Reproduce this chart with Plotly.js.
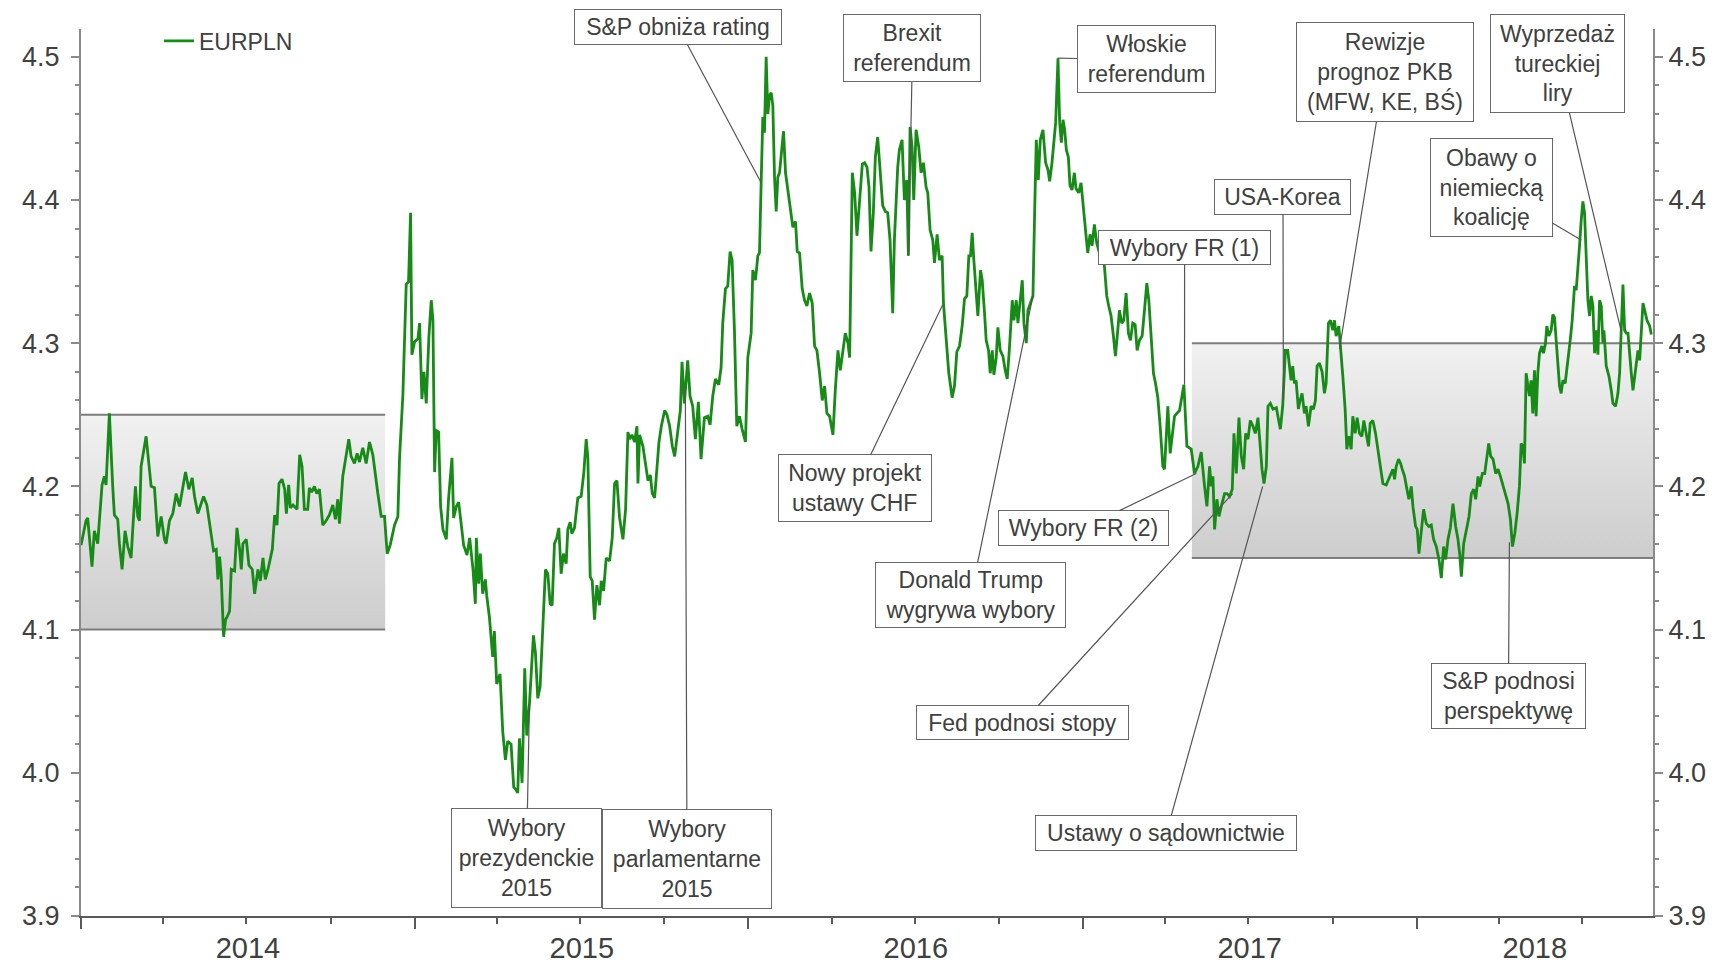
<!DOCTYPE html>
<html><head><meta charset="utf-8">
<script src="https://cdn.plot.ly/plotly-3.0.1.min.js"></script>
<style>html,body{margin:0;padding:0;background:#fff}#chart{width:1727px;height:963px}</style>
</head><body><div id="chart"></div>
<script>
// ---- data: EURPLN, fraction-of-year positions and values ----
const f2014 = [0,.015,.020,.033,.040,.050,.063,.070,.075,.085,
 .095,.100,.110,.115,.123,.132,.140,.150,.155,.163,
 .170,.175,.180,.195,.210,.220,.230,.240,.250,.255,
 .265,.275,.285,.295,.313,.323,.333,.340,.350,.367,
 .377,.390,.397,.405,.410,.415,.420,.427,.433,.438,
 .445,.450,.460,.467,.475,.480,.485,.495,.503,.513,
 .520,.530,.537,.545,.552,.560,.573,.580,.587,.593,
 .602,.610,.615,.622,.627,.635,.647,.655,.662,.669,
 .679,.684,.691,.699,.706,.714,.724,.734,.744,.754,
 .762,.769,.774,.784,.794,.802,.809,.819,.827,.834,
 .844,.854,.864,.874,.889,.899,.909,.917,.926,.939,
 .949,.954,.964,.974,.981,.987,.991,.999];
const v2014 = [4.159,4.176,4.178,4.144,4.169,4.160,4.201,4.207,4.201,4.251,
 4.200,4.180,4.177,4.160,4.142,4.169,4.158,4.150,4.170,4.200,
 4.179,4.176,4.214,4.235,4.200,4.199,4.165,4.179,4.163,4.160,
 4.176,4.181,4.195,4.186,4.210,4.198,4.206,4.193,4.181,4.193,
 4.187,4.165,4.155,4.156,4.135,4.151,4.137,4.095,4.107,4.109,
 4.113,4.142,4.141,4.171,4.156,4.142,4.160,4.163,4.145,4.142,
 4.125,4.142,4.134,4.150,4.135,4.142,4.156,4.180,4.173,4.202,
 4.205,4.198,4.181,4.201,4.185,4.187,4.184,4.222,4.214,4.184,
 4.184,4.199,4.196,4.200,4.195,4.198,4.173,4.176,4.180,4.187,
 4.177,4.191,4.174,4.207,4.223,4.233,4.221,4.216,4.223,4.217,
 4.227,4.216,4.231,4.222,4.195,4.179,4.179,4.153,4.159,4.173,
 4.179,4.220,4.264,4.341,4.343,4.391,4.292,4.301];

const f2015 = [.009,.014,.021,.027,.034,.042,.049,.054,.059,.064,
 .071,.077,.084,.094,.101,.111,.116,.124,.131,.139,
 .146,.156,.164,.174,.181,.184,.191,.196,.203,.211,
 .215,.223,.233,.238,.245,.255,.263,.271,.278,.288,
 .296,.303,.308,.313,.321,.329,.335,.343,.355,.361,
 .368,.375,.383,.391,.398,.405,.411,.418,.425,.431,
 .438,.445,.453,.458,.465,.470,.478,.488,.498,.506,
 .513,.518,.525,.531,.538,.545,.553,.558,.565,.573,
 .583,.591,.598,.605,.613,.623,.631,.638,.643,.650,
 .658,.665,.668,.673,.683,.691,.698,.705,.711,.718,
 .725,.731,.738,.748,.755,.763,.771,.778,.795,.800,
 .807,.817,.824,.832,.840,.849,.857,.867,.877,.884,
 .892,.900,.910,.917,.922,.930,.937,.944,.950,.957,
 .964,.972,.980,.990,.997];
const v2015 = [4.303,4.314,4.261,4.280,4.258,4.305,4.330,4.316,4.210,4.239,
 4.238,4.186,4.170,4.163,4.192,4.220,4.178,4.186,4.189,4.175,
 4.159,4.152,4.164,4.142,4.118,4.164,4.132,4.153,4.125,4.135,
 4.124,4.109,4.081,4.099,4.062,4.069,4.029,4.009,4.022,4.020,
 3.990,3.988,3.986,4.024,3.993,4.073,4.026,4.048,4.096,4.084,
 4.052,4.060,4.101,4.142,4.139,4.118,4.117,4.160,4.164,4.171,
 4.139,4.153,4.146,4.170,4.175,4.167,4.171,4.192,4.193,4.210,
 4.233,4.220,4.137,4.134,4.107,4.131,4.117,4.134,4.127,4.150,
 4.148,4.164,4.202,4.204,4.178,4.163,4.184,4.238,4.233,4.236,
 4.231,4.242,4.202,4.236,4.228,4.214,4.204,4.208,4.195,4.192,
 4.214,4.231,4.242,4.253,4.250,4.242,4.228,4.221,4.253,4.287,
 4.258,4.288,4.263,4.256,4.233,4.259,4.219,4.248,4.249,4.243,
 4.263,4.275,4.271,4.283,4.314,4.338,4.340,4.364,4.358,4.309,
 4.242,4.249,4.240,4.231,4.290];

const f2016 = [.007,.012,.020,.027,.032,.037,.042,.047,.052,.057,
 .062,.067,.072,.077,.082,.087,.092,.099,.104,.110,
 .117,.124,.132,.140,.145,.152,.160,.167,.174,.182,
 .190,.197,.204,.212,.220,.227,.234,.242,.252,.259,
 .267,.274,.282,.289,.297,.302,.310,.317,.324,.332,
 .340,.347,.354,.360,.366,.373,.379,.386,.393,.401,
 .409,.416,.423,.431,.436,.446,.451,.459,.466,.473,
 .478,.483,.489,.494,.501,.509,.516,.523,.531,.536,
 .543,.551,.556,.564,.571,.579,.583,.591,.599,.609,
 .616,.623,.631,.639,.646,.653,.659,.664,.669,.674,
 .681,.686,.694,.699,.706,.711,.718,.723,.729,.734,
 .741,.746,.753,.761,.768,.774,.781,.789,.794,.801,
 .806,.813,.819,.824,.831,.836,.843,.851,.856,.861,
 .867,.873,.881,.889,.896,.901,.908,.913,.919,.926,
 .931,.936,.941,.946,.951,.957,.962,.968,.975,.980,
 .988,.995];
const v2016 = [4.307,4.351,4.344,4.361,4.363,4.412,4.458,4.447,4.500,4.460,
 4.473,4.475,4.466,4.416,4.392,4.416,4.419,4.436,4.448,4.419,
 4.407,4.398,4.381,4.385,4.364,4.363,4.338,4.330,4.326,4.335,
 4.328,4.298,4.295,4.279,4.260,4.270,4.251,4.249,4.236,4.267,
 4.295,4.281,4.297,4.307,4.300,4.290,4.419,4.405,4.375,4.403,
 4.425,4.426,4.423,4.409,4.364,4.391,4.430,4.444,4.419,4.396,
 4.392,4.391,4.372,4.321,4.372,4.423,4.435,4.442,4.400,4.414,
 4.361,4.451,4.437,4.400,4.449,4.437,4.419,4.426,4.409,4.405,
 4.379,4.372,4.356,4.376,4.358,4.361,4.328,4.302,4.279,4.262,
 4.270,4.294,4.298,4.312,4.331,4.333,4.361,4.361,4.377,4.358,
 4.330,4.319,4.351,4.344,4.321,4.302,4.295,4.279,4.295,4.278,
 4.290,4.311,4.295,4.291,4.281,4.275,4.298,4.330,4.316,4.330,
 4.314,4.330,4.344,4.314,4.300,4.323,4.328,4.333,4.391,4.442,
 4.414,4.442,4.449,4.426,4.421,4.413,4.426,4.442,4.454,4.499,
 4.454,4.440,4.456,4.449,4.435,4.430,4.410,4.407,4.419,4.408,
 4.405,4.412];

const f2017 = [0,.008,.015,.022,.028,.035,.042,.050,.058,.065,
 .072,.078,.085,.092,.098,.105,.110,.117,.123,.130,
 .137,.143,.150,.157,.163,.170,.178,.185,.192,.198,
 .205,.212,.218,.225,.232,.240,.245,.255,.262,.268,
 .275,.282,.290,.303,.312,.325,.335,.345,.355,.365,
 .372,.380,.385,.390,.395,.402,.408,.415,.425,.432,
 .440,.448,.453,.460,.468,.475,.482,.488,.495,.502,
 .510,.517,.525,.530,.537,.543,.550,.555,.562,.570,
 .580,.587,.592,.599,.607,.614,.619,.624,.629,.634,
 .639,.646,.651,.657,.664,.669,.676,.684,.691,.697,
 .702,.709,.717,.724,.729,.736,.742,.749,.754,.759,
 .767,.774,.779,.786,.791,.797,.804,.809,.816,.822,
 .829,.836,.842,.849,.856,.861,.869,.877,.884,.892,
 .899,.909,.919,.929,.934,.939,.946,.952,.957,.964,
 .971,.977,.984,.989,.997];
const v2017 = [4.400,4.379,4.363,4.376,4.368,4.383,4.370,4.363,4.368,4.354,
 4.333,4.326,4.319,4.305,4.291,4.309,4.323,4.314,4.316,4.335,
 4.307,4.302,4.314,4.313,4.295,4.302,4.305,4.323,4.342,4.330,
 4.302,4.279,4.272,4.262,4.242,4.214,4.212,4.256,4.223,4.237,
 4.249,4.251,4.253,4.271,4.228,4.226,4.209,4.214,4.224,4.200,
 4.186,4.214,4.200,4.207,4.170,4.191,4.179,4.186,4.195,4.195,
 4.193,4.198,4.237,4.209,4.248,4.221,4.212,4.237,4.233,4.246,
 4.242,4.237,4.248,4.233,4.212,4.202,4.214,4.256,4.258,4.254,
 4.255,4.246,4.240,4.256,4.295,4.295,4.284,4.274,4.284,4.272,
 4.274,4.254,4.260,4.265,4.251,4.256,4.242,4.256,4.254,4.260,
 4.284,4.286,4.280,4.265,4.272,4.314,4.316,4.309,4.316,4.305,
 4.312,4.293,4.277,4.254,4.226,4.235,4.226,4.249,4.237,4.248,
 4.237,4.235,4.246,4.237,4.228,4.244,4.246,4.237,4.226,4.212,
 4.202,4.201,4.207,4.212,4.205,4.214,4.219,4.216,4.212,4.207,
 4.198,4.191,4.200,4.186,4.172];

const f2018 = [.002,.007,.021,.029,.037,.044,.051,.059,.067,.074,
 .081,.087,.094,.101,.109,.117,.124,.129,.134,.141,
 .149,.157,.164,.171,.177,.184,.189,.197,.204,.211,
 .216,.222,.229,.237,.244,.251,.259,.267,.274,.281,
 .287,.294,.301,.308,.313,.318,.323,.328,.333,.338,
 .343,.348,.353,.358,.363,.368,.375,.380,.386,.390,
 .396,.403,.408,.413,.418,.423,.428,.433,.438,.445,
 .453,.460,.466,.473,.478,.483,.488,.493,.498,.503,
 .508,.513,.518,.523,.528,.533,.538,.543,.548,.553,
 .558,.561,.568,.576,.583,.588,.596,.603,.608,.613,
 .618,.623,.628,.633,.638,.643,.648,.653,.658,.663,
 .668,.673,.678,.685,.690,.698,.703];
const v2018 = [4.170,4.153,4.184,4.174,4.172,4.173,4.163,4.158,4.149,4.136,
 4.158,4.149,4.163,4.171,4.188,4.172,4.163,4.153,4.137,4.160,
 4.170,4.179,4.195,4.198,4.191,4.207,4.200,4.209,4.209,4.221,
 4.230,4.221,4.219,4.209,4.212,4.207,4.200,4.195,4.188,4.177,
 4.158,4.167,4.181,4.200,4.230,4.228,4.216,4.279,4.272,4.263,
 4.274,4.251,4.281,4.249,4.279,4.293,4.298,4.293,4.300,4.312,
 4.305,4.309,4.320,4.318,4.302,4.284,4.270,4.265,4.274,4.272,
 4.286,4.302,4.316,4.340,4.337,4.351,4.368,4.386,4.399,4.391,
 4.358,4.330,4.319,4.333,4.326,4.293,4.309,4.292,4.330,4.326,
 4.300,4.309,4.284,4.277,4.267,4.258,4.256,4.265,4.279,4.309,
 4.341,4.309,4.307,4.307,4.291,4.279,4.267,4.277,4.286,4.295,
 4.288,4.312,4.328,4.321,4.316,4.312,4.306];

// shaded ranges (decimal-year start/end, low/high level)
const bandStart = [2014.000, 2017.327];
const bandEnd   = [2014.911, 2018.708];
const bandLow   = [4.10, 4.15];
const bandHigh  = [4.25, 4.30];

// year labels
const yearLabels = ['2014','2015','2016','2017','2018'];
const yearLabelAt = [2014.5, 2015.5, 2016.5, 2017.5, 2018.354];

// events (decimal year, EURPLN level at the pointer)
const eventLabels = ['S&amp;P obniża rating','Brexit<br>referendum','Włoskie<br>referendum',
 'Rewizje<br>prognoz PKB<br>(MFW, KE, BŚ)','Wyprzedaż<br>tureckiej<br>liry','Obawy o<br>niemiecką<br>koalicję',
 'USA-Korea','Wybory FR (1)','Wybory FR (2)','Nowy projekt<br>ustawy CHF','Donald Trump<br>wygrywa wybory',
 'Fed podnosi stopy','Ustawy o sądownictwie','S&amp;P podnosi<br>perspektywę',
 'Wybory<br>prezydenckie<br>2015','Wybory<br>parlamentarne<br>2015'];
const eventYears = [2016.037,2016.478,2016.925,2017.769,2018.613,2018.493,2017.601,2017.305,2017.340,
 2016.581,2016.851,2017.449,2017.539,2018.278,2015.343,2015.810];
const eventLevels = [4.412,4.361,4.499,4.296,4.308,4.372,4.2605,4.271,4.209,4.327,4.333,4.195,4.200,4.161,4.048,4.270];

// ---- layout geometry (pixels) ----
const W=1727, H=963, L=81, R=74, T=29, B=47;
const X0=2014.0, X1=2018.708, Y0=3.9, Y1=4.5194;
const plotW=W-L-R, plotH=H-T-B;
// label box centre x, centre y, width, height (pixels)
const boxGeom = [
 [678,27,208,36],[912.5,48.5,138,68],[1146.5,59.5,139,68],[1384.5,72,178,100],
 [1557.8,63.9,135,99],[1491.3,187.2,123,99],[1283,196.6,137,36],[1184.6,247.8,173,35],
 [1083.3,528.1,171,36],[854.7,487.9,154,68],[970.9,594.8,191,66],[1022.7,722.5,213,35],
 [1166.4,833.2,262,36],[1508.4,696.1,155,66],[526.5,858,151,100],[687,859,170,100]
];

function toDate(t){
  const ms = Date.UTC(2014,0,1) + (t-2014)*365.25*86400000;
  return new Date(ms).toISOString().slice(0,19).replace('T',' ');
}
const xpix = t => L + (t-X0)/(X1-X0)*plotW;
const ypix = v => T + (Y1-v)/(Y1-Y0)*plotH;

const years = [[2014,f2014,v2014],[2015,f2015,v2015],[2016,f2016,v2016],[2017,f2017,v2017],[2018,f2018,v2018]];
let xs=[], ys=[];
years.forEach(([yr,f,v])=>{ f.forEach((fr,i)=>{ xs.push(toDate(yr+fr)); ys.push(v[i]); }); });

const FONT = '"Liberation Sans", Arial, sans-serif';
const TXT = '#404040';

const traces = [];
bandStart.forEach((s,i)=>{
  const a=toDate(s), b=toDate(bandEnd[i]);
  traces.push({type:'scatter', mode:'lines', x:[a,b,b,a,a], y:[bandLow[i],bandLow[i],bandHigh[i],bandHigh[i],bandLow[i]],
    fill:'toself', line:{width:0, color:'rgba(0,0,0,0)'},
    fillcolor:'#dedede',
    fillgradient:{type:'vertical', start:bandLow[i], stop:bandHigh[i], colorscale:[[0,'#cdcdcd'],[1,'#f1f1f1']]},
    hoverinfo:'skip', showlegend:false});
  traces.push({type:'scatter', mode:'lines', x:[a,b,null,a,b], y:[bandHigh[i],bandHigh[i],null,bandLow[i],bandLow[i]],
    line:{width:2, color:'#7d7d7d'}, hoverinfo:'skip', showlegend:false});
});
// the series sits on the overlaying (x2,y2) pair, which carries the year labels and the right-hand scale
traces.push({type:'scatter', mode:'lines', name:'EURPLN', x:xs, y:ys, xaxis:'x2', yaxis:'y2',
  line:{color:'#178a17', width:2.8}, showlegend:true});

const annotations = eventLabels.map((txt,i)=>{
  const g = boxGeom[i];
  const tx = eventYears[i], ty = eventLevels[i];
  return {x:toDate(tx), y:ty, xref:'x', yref:'y', text:txt, showarrow:true,
    ax: g[0]-xpix(tx), ay: g[1]-ypix(ty), axref:'pixel', ayref:'pixel',
    arrowhead:0, arrowwidth:1.2, arrowcolor:'#555', standoff:0, startstandoff:0,
    bordercolor:'#6a6a6a', borderwidth:1, borderpad:0, bgcolor:'#ffffff',
    width:g[2]-2, height:g[3]-2, align:'center', valign:'middle',
    font:{family:FONT, size:23, color:TXT}};
});

const axisY = {
  range:[Y0,Y1], tickmode:'linear', tick0:3.9, dtick:0.1, tickformat:'.1f',
  ticks:'outside', ticklen:8, tickwidth:2, tickcolor:'#8a8a8a',
  showline:true, linecolor:'#8a8a8a', linewidth:2, showgrid:false, zeroline:false,
  tickfont:{family:FONT, size:27, color:TXT},
  minor:{ticks:'outside', ticklen:4, tickwidth:2, tickcolor:'#8a8a8a', dtick:0.02, tick0:3.9, showgrid:false}
};

const layout = {
  width:W, height:H, margin:{l:L, r:R, t:T, b:B, pad:0},
  paper_bgcolor:'#ffffff', plot_bgcolor:'#ffffff',
  font:{family:FONT, color:TXT},
  showlegend:true,
  legend:{x:(159-L)/plotW, y:1-(41-T)/plotH, xanchor:'left', yanchor:'middle',
    bgcolor:'rgba(0,0,0,0)', borderwidth:0, font:{family:FONT, size:23, color:TXT}},
  xaxis:{type:'date', range:[toDate(X0), toDate(X1)], showgrid:false, zeroline:false,
    showline:true, linecolor:'#5a5a5a', linewidth:2,
    tickmode:'linear', tick0:'2014-01-01', dtick:'M12', ticks:'outside', ticklen:11, tickwidth:2, tickcolor:'#5a5a5a',
    showticklabels:false,
    minor:{ticks:'outside', ticklen:6, tickwidth:2, tickcolor:'#5a5a5a', dtick:'M3', tick0:'2014-01-01', showgrid:false}},
  xaxis2:{type:'date', overlaying:'x', anchor:'y2', side:'bottom', matches:'x',
    showgrid:false, zeroline:false, showline:false, ticks:'',
    tickmode:'array', tickvals:yearLabelAt.map(toDate), ticktext:yearLabels,
    tickfont:{family:FONT, size:29, color:TXT}, ticklabelstandoff:12},
  yaxis:Object.assign({}, axisY, {side:'left', ticklabelstandoff:6}),
  yaxis2:Object.assign({}, axisY, {overlaying:'y', side:'right', anchor:'x2', matches:'y', ticklabelstandoff:0}),
  annotations:annotations,
  hovermode:false
};

Plotly.newPlot('chart', traces, layout, {staticPlot:true, displayModeBar:false});
</script></body></html>
